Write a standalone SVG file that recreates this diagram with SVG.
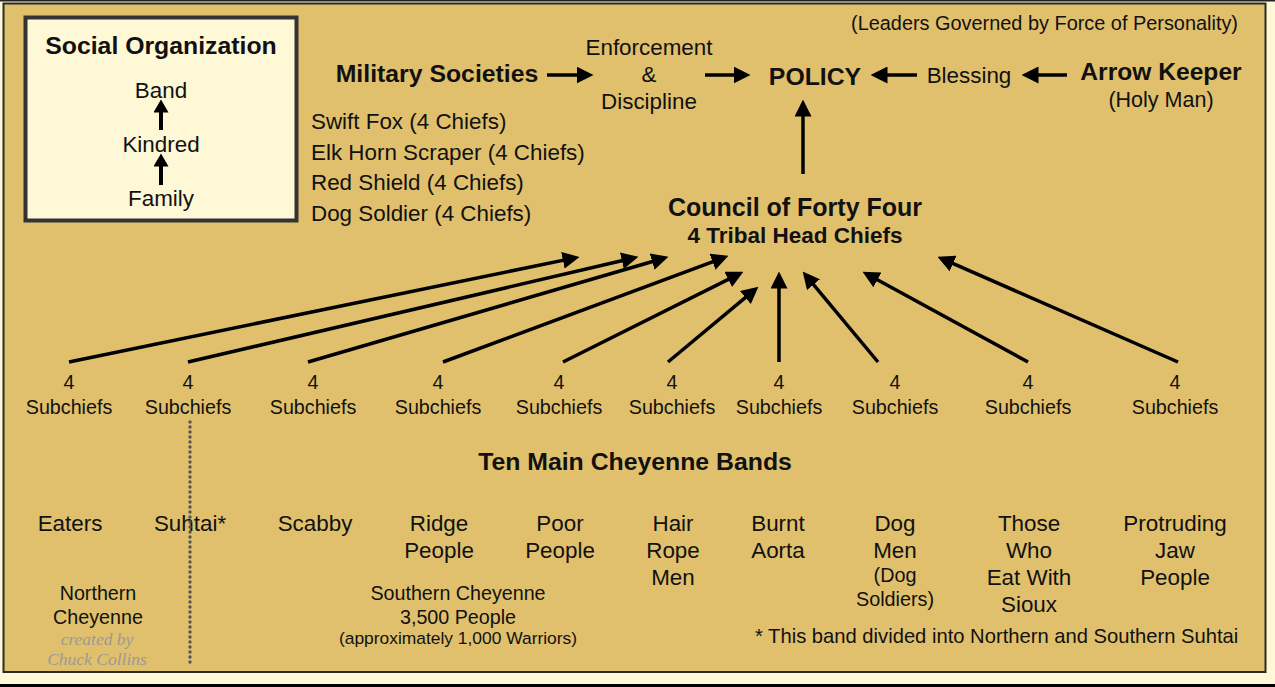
<svg xmlns="http://www.w3.org/2000/svg" width="1275" height="687" viewBox="0 0 1275 687">
<style>
text{font-family:"Liberation Sans",Arial,sans-serif;fill:#111;text-anchor:middle}
.b{font-weight:bold}
.t19{font-size:22.4px}
.t17{font-size:19.7px}
.l{text-anchor:start}
.cr{font-family:"Liberation Serif","Times New Roman",serif;font-style:italic;fill:#9a9a9a;font-size:17.5px}
.c{stroke:#000;stroke-width:3.5;fill:none}
</style>
<defs>
<marker id="ah" markerUnits="userSpaceOnUse" markerWidth="17" markerHeight="17" refX="8" refY="8" orient="auto" viewBox="0 0 16 16">
<path d="M0,0 L16,8 L0,16 z" fill="#000"/>
</marker>
<marker id="ahs" markerUnits="userSpaceOnUse" markerWidth="15" markerHeight="15" refX="6" refY="7" orient="auto" viewBox="0 0 12 14">
<path d="M0,0 L12,7 L0,14 z" fill="#000"/>
</marker>
</defs>
<rect x="0" y="0" width="1275" height="687" fill="#fff8d6"/>
<line x1="0" y1="0.8" x2="1275" y2="0.8" stroke="#222" stroke-width="1.6"/>
<rect x="0" y="684" width="1275" height="3" fill="#000"/>
<rect x="3.5" y="3.5" width="1262" height="668.5" fill="#e0c06c" stroke="#2a2a2a" stroke-width="2"/>

<g id="social-organization">
<rect x="25.5" y="17.5" width="271" height="203" fill="#fff8d6" stroke="#333" stroke-width="4"/>
<text x="161" y="54" class="b" font-size="24.8">Social Organization</text>
<text x="161" y="98" class="t19">Band</text>
<text x="161" y="152" class="t19">Kindred</text>
<text x="161" y="206" class="t19">Family</text>
<line x1="161" y1="130" x2="161" y2="106" stroke="#000" stroke-width="4" marker-end="url(#ahs)"/>
<line x1="161" y1="185" x2="161" y2="160" stroke="#000" stroke-width="4" marker-end="url(#ahs)"/>
</g>

<g id="leaders-note"><text x="1238" y="30" font-size="19.9" style="text-anchor:end">(Leaders Governed by Force of Personality)</text></g>
<g id="military-societies">
<text x="437" y="82" class="b" font-size="24.8">Military Societies</text>
<text x="311" y="129" class="t19 l">Swift Fox (4 Chiefs)</text>
<text x="311" y="160" class="t19 l">Elk Horn Scraper (4 Chiefs)</text>
<text x="311" y="190" class="t19 l">Red Shield (4 Chiefs)</text>
<text x="311" y="221" class="t19 l">Dog Soldier (4 Chiefs)</text>
</g>
<g id="enforcement">
<text x="649" y="55" class="t19">Enforcement</text>
<text x="649" y="82" class="t19">&amp;</text>
<text x="649" y="109" class="t19">Discipline</text>
</g>
<g id="policy"><text x="815" y="85" class="b" font-size="24.8">POLICY</text></g>
<g id="blessing"><text x="969" y="83" class="t19">Blessing</text></g>
<g id="arrow-keeper">
<text x="1161" y="80" class="b" font-size="24.6">Arrow Keeper</text>
<text x="1161" y="107" font-size="21.5">(Holy Man)</text>
</g>
<g id="council">
<text x="795" y="216" class="b" font-size="25">Council of Forty Four</text>
<text x="795" y="243" class="b" font-size="22.5">4 Tribal Head Chiefs</text>
</g>

<g id="subchiefs" class="t17">
<g id="sub1"><text x="69" y="389">4</text><text x="69" y="414">Subchiefs</text></g>
<g id="sub2"><text x="188" y="389">4</text><text x="188" y="414">Subchiefs</text></g>
<g id="sub3"><text x="313" y="389">4</text><text x="313" y="414">Subchiefs</text></g>
<g id="sub4"><text x="438" y="389">4</text><text x="438" y="414">Subchiefs</text></g>
<g id="sub5"><text x="559" y="389">4</text><text x="559" y="414">Subchiefs</text></g>
<g id="sub6"><text x="672" y="389">4</text><text x="672" y="414">Subchiefs</text></g>
<g id="sub7"><text x="779" y="389">4</text><text x="779" y="414">Subchiefs</text></g>
<g id="sub8"><text x="895" y="389">4</text><text x="895" y="414">Subchiefs</text></g>
<g id="sub9"><text x="1028" y="389">4</text><text x="1028" y="414">Subchiefs</text></g>
<g id="sub10"><text x="1175" y="389">4</text><text x="1175" y="414">Subchiefs</text></g>
</g>

<g id="bands-title"><text x="635" y="470" class="b" font-size="24.8">Ten Main Cheyenne Bands</text></g>
<g id="bands" class="t19">
<g id="eaters"><text x="70" y="531">Eaters</text></g>
<g id="suhtai"><text x="190" y="531">Suhtai*</text></g>
<g id="scabby"><text x="315" y="531">Scabby</text></g>
<g id="ridge"><text x="439" y="531">Ridge</text><text x="439" y="558">People</text></g>
<g id="poor"><text x="560" y="531">Poor</text><text x="560" y="558">People</text></g>
<g id="hair-rope"><text x="673" y="531">Hair</text><text x="673" y="558">Rope</text><text x="673" y="585">Men</text></g>
<g id="burnt-aorta"><text x="778" y="531">Burnt</text><text x="778" y="558">Aorta</text></g>
<g id="dog-men"><text x="895" y="531">Dog</text><text x="895" y="558">Men</text><text x="895" y="582" font-size="19.8">(Dog</text><text x="895" y="606" font-size="19.8">Soldiers)</text></g>
<g id="those-who"><text x="1029" y="531">Those</text><text x="1029" y="558">Who</text><text x="1029" y="585">Eat With</text><text x="1029" y="612">Sioux</text></g>
<g id="protruding"><text x="1175" y="531">Protruding</text><text x="1175" y="558">Jaw</text><text x="1175" y="585">People</text></g>
</g>

<g id="northern"><text x="98" y="600" class="t17">Northern</text><text x="98" y="624" class="t17">Cheyenne</text></g>
<g id="credit"><text x="97" y="645" class="cr">created by</text><text x="97" y="665" class="cr">Chuck Collins</text></g>
<g id="southern">
<text x="458" y="600" class="t17">Southern Cheyenne</text>
<text x="458" y="624" class="t17">3,500 People</text>
<text x="458" y="644" font-size="17.4">(approximately 1,000 Warriors)</text>
</g>
<g id="footnote"><text x="755" y="643" font-size="20.2" class="l">* This band divided into Northern and Southern Suhtai</text></g>

<g id="connectors">
<line class="c" x1="547" y1="75" x2="585" y2="75" marker-end="url(#ah)"/>
<line class="c" x1="705" y1="75" x2="742" y2="75" marker-end="url(#ah)"/>
<line class="c" x1="917" y1="75" x2="879" y2="75" marker-end="url(#ah)"/>
<line class="c" x1="1067" y1="75" x2="1030" y2="75" marker-end="url(#ah)"/>
<line class="c" x1="803" y1="174" x2="803" y2="108" marker-end="url(#ah)"/>
<line class="c" x1="69" y1="362" x2="571.2" y2="258.6" marker-end="url(#ah)"/>
<line class="c" x1="188" y1="362" x2="630.2" y2="258.8" marker-end="url(#ah)"/>
<line class="c" x1="308" y1="362" x2="660.3" y2="259.2" marker-end="url(#ah)"/>
<line class="c" x1="443" y1="362" x2="720.5" y2="258.8" marker-end="url(#ah)"/>
<line class="c" x1="563" y1="362" x2="735.8" y2="275.6" marker-end="url(#ah)"/>
<line class="c" x1="668" y1="362" x2="751.9" y2="292.1" marker-end="url(#ah)"/>
<line class="c" x1="779" y1="362" x2="779" y2="280" marker-end="url(#ah)"/>
<line class="c" x1="878" y1="362" x2="808.1" y2="278.1" marker-end="url(#ah)"/>
<line class="c" x1="1028" y1="362" x2="870" y2="275.8" marker-end="url(#ah)"/>
<line class="c" x1="1178" y1="362" x2="945.3" y2="260.2" marker-end="url(#ah)"/>
<line x1="190" y1="422" x2="190" y2="665" stroke="#555" stroke-width="3.4" stroke-linecap="round" stroke-dasharray="0 5"/>
</g>
</svg>
